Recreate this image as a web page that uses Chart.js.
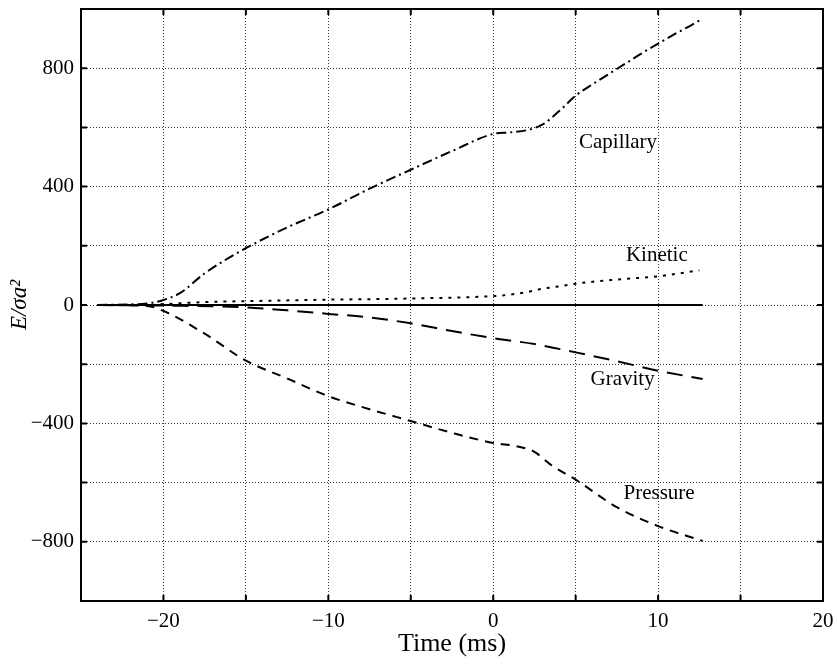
<!DOCTYPE html>
<html>
<head>
<meta charset="utf-8">
<script src="https://cdn.jsdelivr.net/npm/chart.js@4"></script>
<style>
  html, body { margin: 0; padding: 0; background: #fff; }
  #wrap { width: 837px; height: 672px; }
</style>
</head>
<body>
<div id="wrap"><canvas id="energyChart" width="837" height="672"></canvas></div>
<script>
// Energy components (E / sigma a^2) against time in ms
const capTime = [-24, -22, -21, -20, -19, -17.5, -15, -12.5, -10, -7.5, -5, -2.5, 0, 1, 2, 3, 4, 5, 6, 7, 8, 9, 10, 11, 12, 12.7];
const capillary = [0, 2, 5, 17, 40, 107, 192, 262, 323, 393, 457, 520, 578, 583, 590, 610, 655, 707, 745, 780, 815, 850, 883, 915, 945, 967];

const kinTime = [-24, -21, -20, -17.5, -15, -10, -5, 0, 1, 2, 3, 4, 5, 7.5, 10, 12.5];
const kinetic = [0, 0, 3, 10, 13, 18, 22, 30, 35, 43, 55, 63, 72, 86, 97, 117];

const gravTime = [-24, -20, -15, -12.5, -10, -7.5, -5, -2.5, 0, 2.5, 5, 7.5, 10, 12.7];
const gravity = [0, -2, -8, -18, -30, -42, -62, -88, -112, -132, -160, -190, -222, -250];

const presTime = [-24, -21, -20, -17.5, -15, -12.5, -10, -7.5, -5, -2.5, 0, 1.5, 2.5, 3.5, 5, 7.5, 10, 12.7];
const pressure = [0, -3, -20, -97, -188, -248, -308, -352, -392, -432, -466, -478, -496, -540, -590, -683, -747, -797];

const totalTime = [-24, 12.7];
const total = [0, 0];

// curve labels, placed in data coordinates (time, energy)
const curveLabels = ['Capillary', 'Kinetic', 'Gravity', 'Pressure'];
const labelTime = [5.2, 8.05, 5.9, 7.9];
const labelEnergy = [550, 168, -251, -637];

const serif = '"Liberation Serif", "DejaVu Serif", serif';

function toPoints(xs, ys) {
  return xs.map((x, i) => ({ x: x, y: ys[i] }));
}

function fmt(v) {
  return v < 0 ? '\u2212' + Math.abs(v) : String(v);
}

function series(xs, ys, dash) {
  return {
    data: toPoints(xs, ys),
    borderColor: '#000',
    borderWidth: 2,
    borderDash: dash,
    pointRadius: 0,
    fill: false,
    cubicInterpolationMode: 'monotone'
  };
}

// no extra room for overhanging edge labels; layout padding alone sets the frame
function noOverhang(scale) {
  scale.paddingTop = 0;
  scale.paddingBottom = 0;
  scale.paddingLeft = 0;
  scale.paddingRight = 0;
}

// frame around the plot with short inward ticks at every grid line, plus curve labels
const framePlugin = {
  id: 'frame',
  afterDatasetsDraw(chart) {
    const { ctx, chartArea: a, scales } = chart;
    const len = 6;
    ctx.save();
    ctx.strokeStyle = '#000';
    ctx.lineWidth = 2;
    ctx.setLineDash([]);
    ctx.strokeRect(a.left, a.top, a.right - a.left, a.bottom - a.top);
    ctx.beginPath();
    scales.x.ticks.forEach(t => {
      const px = scales.x.getPixelForValue(t.value);
      ctx.moveTo(px, a.bottom); ctx.lineTo(px, a.bottom - len);
      ctx.moveTo(px, a.top); ctx.lineTo(px, a.top + len);
    });
    scales.y.ticks.forEach(t => {
      const py = scales.y.getPixelForValue(t.value);
      ctx.moveTo(a.left, py); ctx.lineTo(a.left + len, py);
      ctx.moveTo(a.right, py); ctx.lineTo(a.right - len, py);
    });
    ctx.stroke();

    ctx.fillStyle = '#000';
    ctx.font = '21px ' + serif;
    ctx.textAlign = 'left';
    ctx.textBaseline = 'middle';
    curveLabels.forEach((txt, i) => {
      ctx.fillText(txt, scales.x.getPixelForValue(labelTime[i]), scales.y.getPixelForValue(labelEnergy[i]));
    });
    ctx.restore();
  }
};

new Chart(document.getElementById('energyChart'), {
  type: 'line',
  data: {
    datasets: [
      series(totalTime, total, []),
      series(capTime, capillary, [10, 4, 2, 4]),
      series(kinTime, kinetic, [3, 6]),
      series(gravTime, gravity, [16, 9]),
      series(presTime, pressure, [9, 7])
    ]
  },
  options: {
    responsive: false,
    animation: false,
    events: [],
    layout: { padding: { left: 0, right: 14, top: 9, bottom: 0 } },
    plugins: {
      legend: { display: false },
      tooltip: { enabled: false }
    },
    scales: {
      x: {
        type: 'linear',
        min: -25,
        max: 20,
        afterFit(scale) { scale.height = 71; noOverhang(scale); },
        grid: { color: '#333', lineWidth: 1, drawTicks: false },
        border: { display: false, dash: [1, 2] },
        ticks: {
          stepSize: 5,
          autoSkip: false,
          maxRotation: 0,
          padding: 8,
          color: '#000',
          font: { family: serif, size: 21 },
          callback: v => (v % 10 === 0 ? fmt(v) : '')
        },
        title: {
          display: true,
          text: 'Time (ms)',
          color: '#000',
          font: { family: serif, size: 26 },
          padding: { top: 4, bottom: 12 }
        }
      },
      y: {
        type: 'linear',
        min: -1000,
        max: 1000,
        afterFit(scale) { scale.width = 81; noOverhang(scale); },
        grid: { color: '#333', lineWidth: 1, drawTicks: false },
        border: { display: false, dash: [1, 2] },
        ticks: {
          stepSize: 200,
          autoSkip: false,
          padding: 7,
          color: '#000',
          font: { family: serif, size: 21 },
          callback: v => (v % 400 === 0 && Math.abs(v) < 1000 ? fmt(v) : '')
        },
        title: {
          display: true,
          text: 'E/\u03c3a\u00b2',
          color: '#000',
          font: { family: serif, size: 23, style: 'italic' },
          padding: { top: 6, bottom: 4 }
        }
      }
    }
  },
  plugins: [framePlugin]
});
</script>
</body>
</html>
